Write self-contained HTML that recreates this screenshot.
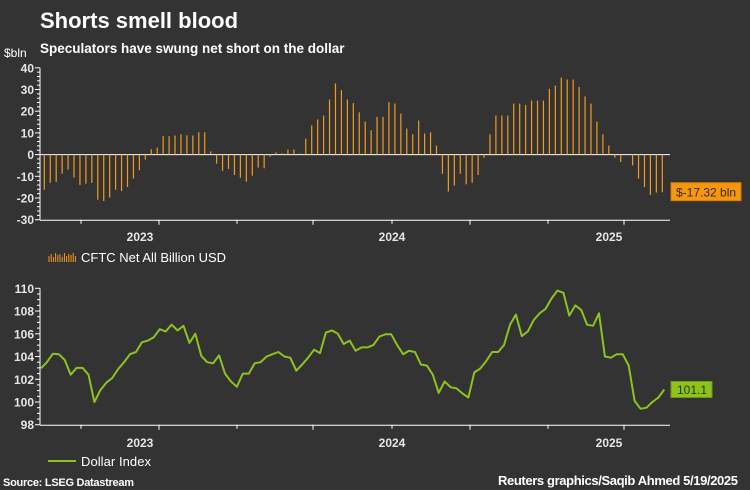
<!DOCTYPE html>
<html><head><meta charset="utf-8"><style>
html,body{margin:0;padding:0;background:#333333;}
svg{display:block;font-family:"Liberation Sans",Arial,sans-serif;}
</style></head><body>
<svg id="chart" width="750" height="490" viewBox="0 0 750 490" xmlns="http://www.w3.org/2000/svg">
<rect width="750" height="490" fill="#333333"/>
<text x="40" y="28" fill="#ffffff" font-size="22" font-weight="bold">Shorts smell blood</text>
<text x="40" y="53" fill="#ffffff" font-size="13.5" font-weight="bold">Speculators have swung net short on the dollar</text>
<text x="4" y="57" fill="#ffffff" font-size="12">$bln</text>
<g id="top"></g>
<g id="bot"></g>
<g>
<g id="legicon"></g>
<text x="81" y="262" fill="#ffffff" font-size="13" textLength="145">CFTC Net All Billion USD</text>
</g>
<g>
<line x1="48" y1="461" x2="76" y2="461" stroke="#8dc21f" stroke-width="2"/>
<text x="81" y="466" fill="#ffffff" font-size="13" textLength="70">Dollar Index</text>
</g>
<text x="3" y="486" fill="#ffffff" font-size="11" font-weight="bold" textLength="131">Source: LSEG Datastream</text>
<text x="738" y="485" fill="#ffffff" font-size="13" font-weight="bold" text-anchor="end" textLength="240">Reuters graphics/Saqib Ahmed 5/19/2025</text>
</svg>
<script>
const cftcValues=[-16.2,-13,-12.6,-8.8,-6.9,-10.6,-14,-13.4,-13,-20.8,-21.4,-19.8,-16.2,-16.8,-14.9,-11,-7.2,-2.3,2.5,3.2,8.5,8.5,8.8,9.4,8.9,8.8,10.3,10.3,1.5,-4.2,-7.5,-6.6,-9.4,-10.6,-12.5,-9.7,-6,-6.3,-1,1,0.6,2.3,2.3,0.5,7.4,13.4,16.2,18,25.4,32.8,29.7,25.4,23.8,19.5,15.2,11.2,17.4,17.4,24.2,23.5,18.9,12,9.4,15.7,9.7,10.3,4.2,-8.8,-17,-14.3,-8.8,-13.7,-13,-9.4,-1.4,9.4,18,18,18,23.5,23.5,22.9,24.9,24.9,24.9,30.3,31.8,35.5,34.6,34.6,31.2,26.8,23.5,15.2,9.4,4.2,-1.4,-3.4,0.3,-5,-11,-14.9,-18.6,-17.5,-17.32];
const dollarValues=[102.96,103.5,104.25,104.2,103.7,102.4,103,103,102.4,100,101.05,101.7,102.1,102.9,103.5,104.2,104.4,105.25,105.4,105.7,106.4,106.2,106.8,106.3,106.7,105.2,106,104.05,103.5,103.4,104.1,102.5,101.8,101.35,102.5,102.5,103.4,103.5,104,104.2,104.4,104,103.9,102.75,103.3,103.9,104.6,104.3,106.1,106.3,106,105.1,105.4,104.5,104.8,104.8,105,105.75,105.95,105.95,105,104.2,104.5,104.4,103.3,103.2,102.4,100.8,101.8,101.3,101.2,100.75,100.4,102.6,102.95,103.6,104.4,104.4,105,106.8,107.7,105.8,106.2,107.2,107.8,108.2,109.1,109.8,109.6,107.6,108.5,108.1,106.8,106.7,107.8,104,103.9,104.2,104.2,103.2,100.1,99.4,99.5,100,100.4,101.1];
const topTicks=[40,30,20,10,0,-10,-20,-30];
const botTicks=[110,108,106,104,102,100,98];
const yearLabels=["2023","2024","2025"];
const lastCftcLabel="$-17.32 bln";
const lastDollarLabel="101.1";

const NS="http://www.w3.org/2000/svg";
function mk(parent,tag,attrs){const e=document.createElementNS(NS,tag);for(const k in attrs)e.setAttribute(k,attrs[k]);parent.appendChild(e);return e;}
const X0=40,X1=670;
const yearX=[140,392,609];
const tickX=[81,159,237,313,392,470,548,624];
function cx(i,n,a,b){return a+(b-a)*i/(n-1);}
// top panel
const topG=document.getElementById('top');
function yT(v){return 154.6-v*2.17;}
topTicks.forEach(t=>{
  const l=mk(topG,'text',{x:34,y:yT(t)+4.5,fill:'#e6e6e6','font-size':12,'font-weight':'bold','text-anchor':'end'});
  l.textContent=t;
  
  
});
for(let v=-30;v<=40;v+=2){
  const major=v%10===0;
  mk(topG,'line',{x1:major?35:37,x2:40,y1:yT(v),y2:yT(v),stroke:'#ffffff','stroke-width':1});
}
mk(topG,'line',{x1:40,x2:40,y1:yT(40),y2:yT(-30),stroke:'#ffffff','stroke-width':1});
mk(topG,'line',{x1:40,x2:X1,y1:yT(-30)+0.5,y2:yT(-30)+0.5,stroke:'#ffffff','stroke-width':1});
mk(topG,'line',{x1:40,x2:X1,y1:yT(0),y2:yT(0),stroke:'#ffffff','stroke-width':1});
tickX.forEach((x,i)=>mk(topG,'line',{x1:x,x2:x,y1:yT(-30),y2:yT(-30)+(i%2?5:4),stroke:'#ffffff','stroke-width':1}));
yearLabels.forEach((y,i)=>{
  const t=mk(topG,'text',{x:yearX[i],y:241,fill:'#e6e6e6','font-size':12,'font-weight':'bold','text-anchor':'middle'});
  t.textContent=y;
  
  
});
cftcValues.forEach((v,i)=>{
  const x=cx(i,cftcValues.length,44.3,662.3);
  const r=mk(topG,'line',{x1:x,x2:x,y1:yT(0),y2:yT(v),stroke:'#f39a1e','stroke-width':1.2});
  
  
});
const lb=mk(topG,'g',{});


const lyv=yT(cftcValues[cftcValues.length-1]);
mk(lb,'rect',{x:671,y:lyv-9.5,width:70,height:18,fill:'#f7960f',stroke:'#d07b00'});
const lt=mk(lb,'text',{x:676,y:lyv+4.5,fill:'#3a2a10','font-size':12});lt.textContent=lastCftcLabel;
// legend icon
const li=document.getElementById('legicon');
for(let i=0;i<13;i++){const x=49+i*2.2;const h=[6,8,5,9,7,8,5,9,6,8,7,9,6][i];mk(li,'line',{x1:x,x2:x,y1:262,y2:262-h,stroke:'#f39a1e','stroke-width':1});}
// bottom panel
const botG=document.getElementById('bot');
function yB(v){return 288.3+(110-v)*11.37;}
botTicks.forEach(t=>{
  const l=mk(botG,'text',{x:34,y:yB(t)+4.5,fill:'#e6e6e6','font-size':12,'font-weight':'bold','text-anchor':'end'});
  l.textContent=t;
  
  
});
for(let v=98;v<=110;v+=0.5){
  const major=v%2===0;
  mk(botG,'line',{x1:major?35:37,x2:40,y1:yB(v),y2:yB(v),stroke:'#ffffff','stroke-width':1});
}
mk(botG,'line',{x1:40,x2:40,y1:yB(110),y2:yB(98),stroke:'#ffffff','stroke-width':1});
mk(botG,'line',{x1:40,x2:X1,y1:yB(98)+0.5,y2:yB(98)+0.5,stroke:'#ffffff','stroke-width':1});
tickX.forEach((x,i)=>mk(botG,'line',{x1:x,x2:x,y1:yB(98),y2:yB(98)+(i%2?5:4),stroke:'#ffffff','stroke-width':1}));
yearLabels.forEach((y,i)=>{
  const t=mk(botG,'text',{x:yearX[i],y:447,fill:'#e6e6e6','font-size':12,'font-weight':'bold','text-anchor':'middle'});
  t.textContent=y;
  
  
});
const pts=dollarValues.map((v,i)=>cx(i,dollarValues.length,41,664.3).toFixed(1)+','+yB(v).toFixed(1)).join(' ');
const pl=mk(botG,'polyline',{points:pts,fill:'none',stroke:'#8dc21f','stroke-width':2,'stroke-linejoin':'round'});


const db=mk(botG,'g',{});


const dyv=yB(dollarValues[dollarValues.length-1]);
mk(db,'rect',{x:671,y:dyv-8,width:41,height:16,fill:'#8dc21f',stroke:'#6f9a10'});
const dt=mk(db,'text',{x:677,y:dyv+4.5,fill:'#2a3a08','font-size':12});dt.textContent=lastDollarLabel;
</script>
</body></html>
